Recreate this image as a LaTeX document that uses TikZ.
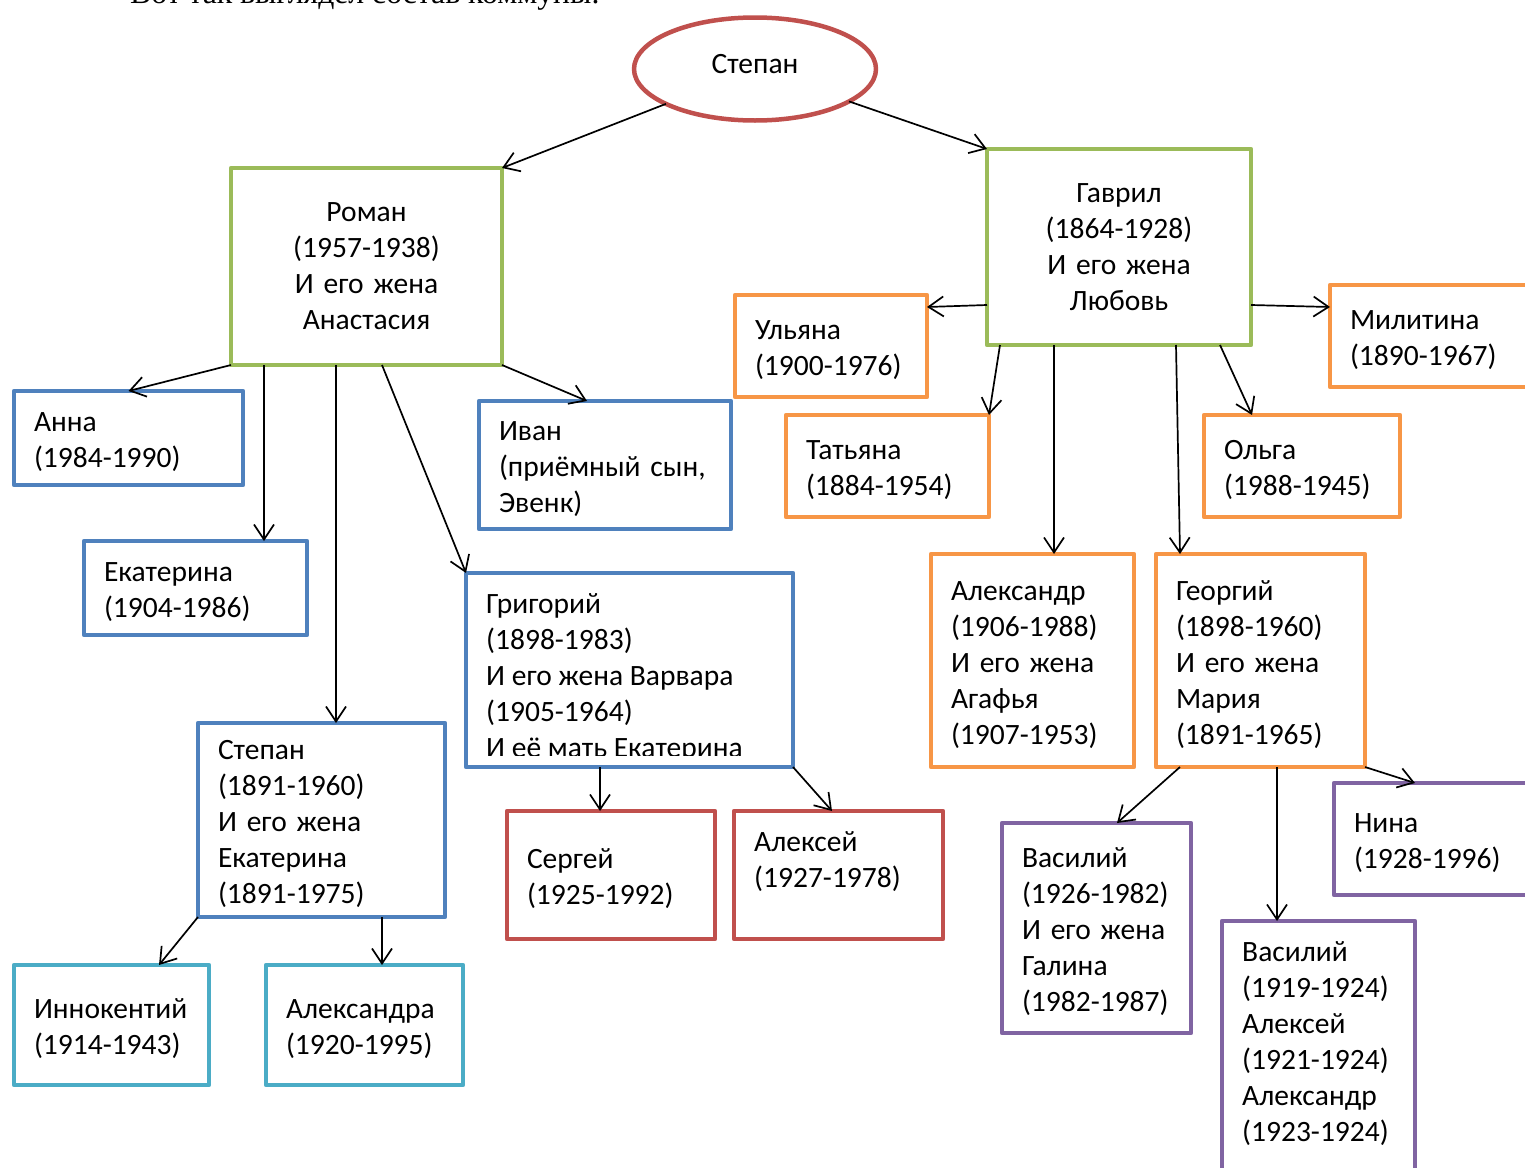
\documentclass[tikz,border=0pt]{standalone}
\usepackage{fontspec}
\setmainfont{Carlito}
\newfontfamily\headfont{Liberation Serif}
\usetikzlibrary{shapes.geometric,arrows.meta}

\definecolor{famred}{HTML}{C0504D}
\definecolor{famgreen}{HTML}{9BBB59}
\definecolor{famblue}{HTML}{4F81BD}
\definecolor{famorange}{HTML}{F79646}
\definecolor{fampurple}{HTML}{8064A2}
\definecolor{famteal}{HTML}{4BACC6}

\begin{document}
\begin{tikzpicture}[x=1pt, y=-1pt, line join=round,
		base box/.style={rectangle, draw, line width=4.5pt, fill=white, outer sep=0pt,
			inner xsep=20pt, inner ysep=0pt, anchor=north west,
			font=\fontsize{29.5}{36}\selectfont},
		person node/.style={base box, align=left, execute at begin node={\rule{0pt}{28pt}}},
		parent node/.style={base box, align=center, draw=famgreen},
		box text/.style={anchor=north west, align=left, inner xsep=20pt, inner ysep=20pt,
			font=\fontsize{29.5}{36}\selectfont},
		arr/.style={-{Straight Barb[length=15pt,width=20pt]}, line width=1.7pt}]
		
		\clip (0,0) rectangle (1525,1167);
		\node[anchor=base west, inner sep=0pt, font=\headfont\fontsize{31.7}{38}\selectfont] (title) at (130,4) {Вот так выглядел состав коммуны.};
		
		% the head of the family
		\node[ellipse, draw=famred, line width=4.5pt, fill=white, outer sep=0pt, minimum width=242, minimum height=103,
			text depth=10pt, font=\fontsize{29.5}{36}\selectfont] (root) at (755,69) {Степан};
		
		% two sons
		\node[parent node, text width=231, minimum height=197] (roman) at (231,168) {Роман\\(1957-1938)\\И его жена\\Анастасия};
		\node[parent node, text width=224, minimum height=196] (gavril) at (987,149) {Гаврил\\(1864-1928)\\И его жена\\Любовь};
		
		% Roman's family
		\node[person node, draw=famblue, text width=189, minimum height=94] (anna) at (14,391) {Анна\\(1984-1990)};
		\node[person node, draw=famblue, text width=212, minimum height=128] (ivan) at (479,401) {Иван\\(приёмный сын,\\Эвенк)};
		\node[person node, draw=famblue, text width=183, minimum height=94] (ekat) at (84,541) {Екатерина\\(1904-1986)};
		\node[person node, draw=famblue, minimum width=327, minimum height=194] (grig) at (466,573) {};
		\begin{scope}
			\clip (grig.north west) rectangle ([yshift=12]grig.south east);
			\node[box text] (grigtext) at (grig.north west) {Григорий\\(1898-1983)\\И его жена Варвара\\(1905-1964)\\И её мать Екатерина};
		\end{scope}
		\node[person node, draw=famblue, text width=207, minimum height=194] (stepan) at (198,723) {Степан\\(1891-1960)\\И его жена\\Екатерина\\(1891-1975)};
		\node[person node, draw=famred, text width=168, minimum height=128] (sergey) at (507,811) {Сергей\\(1925-1992)};
		\node[person node, draw=famred, minimum width=209, minimum height=128] (aleksey) at (734,811) {};
		\node[box text] (alekseytext) at (aleksey.north west) {Алексей\\(1927-1978)};
		\node[person node, draw=famteal, text width=155, minimum height=120] (innok) at (14,965) {Иннокентий\\(1914-1943)};
		\node[person node, draw=famteal, text width=157, minimum height=120] (aleksandra) at (266,965) {Александра\\(1920-1995)};
		
		% Gavril's family
		\node[person node, draw=famorange, text width=152, minimum height=102] (ulyana) at (735,295) {Ульяна\\(1900-1976)};
		\node[person node, draw=famorange, text width=190, minimum height=102] (militina) at (1330,285) {Милитина\\(1890-1967)};
		\node[person node, draw=famorange, text width=163, minimum height=102] (tatyana) at (786,415) {Татьяна\\(1884-1954)};
		\node[person node, draw=famorange, text width=156, minimum height=102] (olga) at (1204,415) {Ольга\\(1988-1945)};
		\node[person node, draw=famorange, text width=163, minimum height=213] (aleksandr) at (931,554) {Александр\\(1906-1988)\\И его жена\\Агафья\\(1907-1953)};
		\node[person node, draw=famorange, text width=169, minimum height=213] (georgiy) at (1156,554) {Георгий\\(1898-1960)\\И его жена\\Мария\\(1891-1965)};
		\node[person node, draw=fampurple, text width=149, minimum height=210] (vasiliy) at (1002,823) {Василий\\(1926-1982)\\И его жена\\Галина\\(1982-1987)};
		\node[person node, draw=fampurple, text width=186, minimum height=112] (nina) at (1334,783) {Нина\\(1928-1996)};
		\node[person node, draw=fampurple, minimum width=193, minimum height=300] (infants) at (1222,921) {};
		\node[box text] (infantstext) at (infants.north west) {Василий\\(1919-1924)\\Алексей\\(1921-1924)\\Александр\\(1923-1924)};
		
		% departure points on the box edges
		\coordinate (r1) at ([xshift=33]roman.south west);
		\coordinate (r2) at ([xshift=105]roman.south west);
		\coordinate (r3) at ([xshift=151]roman.south west);
		\coordinate (g1) at ([xshift=13]gavril.south west);
		\coordinate (g2) at ([xshift=67]gavril.south west);
		\coordinate (g3) at ([xshift=189]gavril.south west);
		\coordinate (g4) at ([xshift=233]gavril.south west);
		\coordinate (gr1) at ([xshift=134]grig.south west);
		\coordinate (s1) at ([xshift=184]stepan.south west);
		\coordinate (ge1) at ([xshift=24]georgiy.south west);
		\coordinate (ge2) at ([xshift=121]georgiy.south west);
		
		\path[arr]
		(root) edge (roman.north east)
		edge (gavril.north west)
		(roman.south west) edge (anna.north)
		(r1) edge (r1 |- ekat.north)
		(r2) edge (r2 |- stepan.north)
		(r3) edge (grig.north west)
		(roman.south east) edge ([xshift=108]ivan.north west)
		([yshift=-58]gavril.west) edge ([yshift=-12]ulyana.north east)
		([yshift=-58]gavril.east) edge ([yshift=-22]militina.north west)
		(g1) edge (tatyana.north east)
		(g2) edge (g2 |- aleksandr.north)
		(g3) edge ([xshift=24]georgiy.north west)
		(g4) edge ([xshift=48]olga.north west)
		(gr1) edge (gr1 |- sergey.north)
		(grig.south east) edge ([xshift=98]aleksey.north west)
		(stepan.south west) edge ([xshift=145]innok.north west)
		(s1) edge (s1 |- aleksandra.north)
		(ge1) edge ([xshift=115]vasiliy.north west)
		(ge2) edge (ge2 |- infants.north)
		(georgiy.south east) edge ([xshift=81]nina.north west);
		
\end{tikzpicture}
\end{document}
